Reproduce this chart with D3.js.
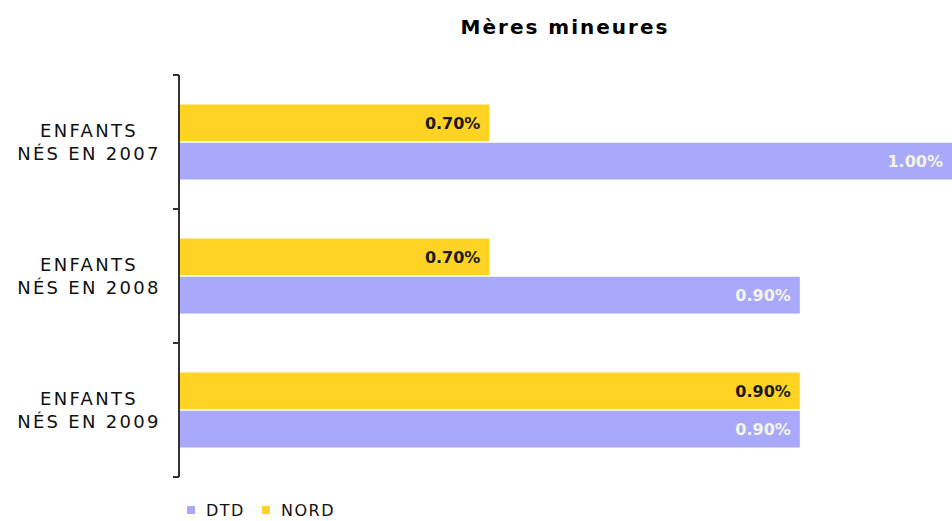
<!DOCTYPE html>
<html>
<head>
<meta charset="utf-8">
<script src="https://cdn.jsdelivr.net/npm/d3@7"></script>
<style>
  body { margin: 0; background: #fff; }
  svg { display: block; }
  text { font-family: "DejaVu Sans", "Liberation Sans", sans-serif; }
</style>
</head>
<body>
<svg id="chart"></svg>
<script>
// data
var categories = ["ENFANTS NÉS EN 2007", "ENFANTS NÉS EN 2008", "ENFANTS NÉS EN 2009"];
var catLines = [["ENFANTS", "NÉS EN 2007"], ["ENFANTS", "NÉS EN 2008"], ["ENFANTS", "NÉS EN 2009"]];
var seriesNames = ["NORD", "DTD"];
var nordValues = [0.70, 0.70, 0.90];
var dtdValues = [1.00, 0.90, 0.90];

var width = 952, height = 521;
var margin = { top: 75, right: -3, bottom: 44, left: 179 };

var svg = d3.select("#chart").attr("width", width).attr("height", height);

svg.append("text")
  .attr("x", 565).attr("y", 34)
  .attr("text-anchor", "middle")
  .style("font-size", "20px").style("font-weight", "bold")
  .style("letter-spacing", "2px")
  .text("Mères mineures");

var x = d3.scaleLinear().domain([0.5, 1.0]).range([margin.left, width - margin.right]);
var y = d3.scaleBand().domain(categories).range([margin.top, height - margin.bottom]);
var groupH = 75;
var inner = d3.scaleBand().domain(seriesNames).range([0, groupH]).paddingInner(0.04);

var colors = { NORD: "#ffd324", DTD: "#a9a9fb" };
var labelColors = { NORD: "#1a1a1a", DTD: "#f4f4e4" };

var rows = [];
categories.forEach(function (c, i) {
  rows.push({ cat: c, s: "NORD", v: nordValues[i] });
  rows.push({ cat: c, s: "DTD", v: dtdValues[i] });
});

function barY(d) { return y(d.cat) + (y.bandwidth() - groupH) / 2 + inner(d.s); }

var g = svg.append("g");
g.selectAll("rect").data(rows).enter().append("rect")
  .attr("x", x(0.5))
  .attr("y", barY)
  .attr("width", function (d) { return x(d.v) - x(0.5); })
  .attr("height", inner.bandwidth())
  .attr("fill", function (d) { return colors[d.s]; });

g.selectAll("text.lbl").data(rows).enter().append("text")
  .attr("class", "lbl")
  .attr("x", function (d) { return Math.min(x(d.v), width) - 9; })
  .attr("y", function (d) { return barY(d) + inner.bandwidth() / 2 + 6; })
  .attr("text-anchor", "end")
  .style("font-size", "16px").style("font-weight", "bold")
  .attr("fill", function (d) { return labelColors[d.s]; })
  .text(function (d) { return d.v.toFixed(2) + "%"; });

// axis
var yAxis = d3.axisLeft(y).tickSize(0).tickFormat("");
var ax = svg.append("g").attr("transform", "translate(" + margin.left + ",0)").call(yAxis);
ax.select(".domain").remove();
ax.append("line").attr("x1", 0).attr("x2", 0).attr("y1", margin.top).attr("y2", height - margin.bottom)
  .attr("stroke", "#333").attr("stroke-width", 2);
var bounds = categories.map(function (c) { return y(c); }).concat([height - margin.bottom]);
ax.selectAll("line.tk").data(bounds).enter().append("line").attr("class", "tk")
  .attr("x1", -6).attr("x2", 0)
  .attr("y1", function (d) { return d; }).attr("y2", function (d) { return d; })
  .attr("stroke", "#333").attr("stroke-width", 2);

var lbl = svg.append("g").selectAll("text").data(categories).enter().append("text")
  .attr("text-anchor", "middle")
  .attr("y", function (d) { return y(d) + y.bandwidth() / 2 - 5; })
  .style("font-size", "18px").style("letter-spacing", "2.3px").attr("fill", "#111");
lbl.selectAll("tspan").data(function (d, i) { return catLines[i]; }).enter().append("tspan")
  .attr("x", 89)
  .attr("dy", function (d, i) { return i === 0 ? 0 : 23; })
  .text(function (d) { return d; });

// legend
var legend = [{ s: "DTD", x: 187 }, { s: "NORD", x: 262 }];
var lg = svg.append("g").selectAll("g").data(legend).enter().append("g")
  .attr("transform", function (d) { return "translate(" + d.x + ",510)"; });
lg.append("rect").attr("x", 0).attr("y", -4).attr("width", 8).attr("height", 8)
  .attr("fill", function (d) { return colors[d.s]; });
lg.append("text").attr("x", 19).attr("y", 6).style("font-size", "16px").style("letter-spacing", "1.5px")
  .attr("fill", "#111")
  .text(function (d) { return d.s; });
</script>
</body>
</html>
